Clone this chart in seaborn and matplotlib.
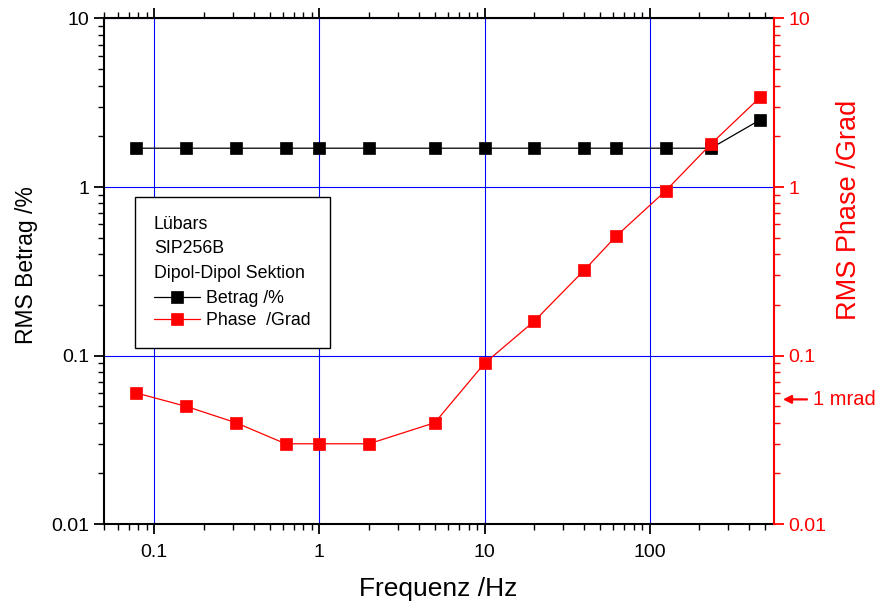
import matplotlib
matplotlib.use("Agg")
import matplotlib.pyplot as plt
import matplotlib.ticker as mticker
import seaborn as sns
import numpy as np

# Data
freq = [0.078125, 0.15625, 0.3125, 0.625, 1.0, 2.0, 5.0, 10.0, 20.0, 40.0, 62.5, 125.0, 235.0, 465.0]
betrag = [1.7, 1.7, 1.7, 1.7, 1.7, 1.7, 1.7, 1.7, 1.7, 1.7, 1.7, 1.7, 1.7, 2.5]
phase = [0.06, 0.05, 0.04, 0.03, 0.03, 0.03, 0.04, 0.09, 0.16, 0.32, 0.51, 0.95, 1.8, 3.4]
legend_title = "Lübars\nSIP256B\nDipol-Dipol Sektion"
mrad_deg = 0.055  # position of the "1 mrad" marker on the phase axis

sns.set_style("ticks")
plt.rcParams['font.family'] = ['Liberation Sans', 'DejaVu Sans']
plt.rcParams['text.color'] = 'black'
plt.rcParams['axes.labelcolor'] = 'black'
plt.rcParams['xtick.color'] = 'black'
plt.rcParams['ytick.color'] = 'black'

fig = plt.figure(figsize=(8.79, 6.06), dpi=100)
ax1 = fig.add_axes([0.118, 0.135, 0.762, 0.8345])
ax2 = ax1.twinx()

for ax in (ax1, ax2):
    ax.set_xscale('log')
    ax.set_yscale('log')
    ax.set_xlim(0.0495, 562)
    ax.set_ylim(0.01, 10)

sns.lineplot(x=freq, y=betrag, ax=ax1, color='black', marker='s', markersize=9,
             markeredgecolor='black', markeredgewidth=0.5, lw=0.9, label='Betrag /%',
             legend=False)
sns.lineplot(x=freq, y=phase, ax=ax2, color='red', marker='s', markersize=9,
             markeredgecolor='red', markeredgewidth=0.5, lw=0.9, label='Phase  /Grad',
             legend=False)

# grid in blue at the decades
ax1.grid(False)
ax2.grid(False)
ax1.grid(True, which='major', axis='both', color='blue', lw=0.8)

fmt = mticker.FuncFormatter(lambda v, p: f"{v:g}")
for ax in (ax1, ax2):
    ax.xaxis.set_major_formatter(fmt)
    ax.yaxis.set_major_formatter(fmt)
    ax.xaxis.set_minor_formatter(mticker.NullFormatter())
    ax.yaxis.set_minor_formatter(mticker.NullFormatter())

ax1.tick_params(which='major', direction='out', length=7, width=1.3, top=True, right=False,
                labelsize=14, colors='black')
ax1.tick_params(axis='x', which='major', pad=7)
ax1.tick_params(which='minor', direction='out', length=4, width=1.0, top=True, right=False)
ax2.tick_params(axis='y', which='major', direction='out', length=7, width=1.3,
                labelsize=14, colors='red')
ax2.tick_params(axis='y', which='minor', direction='out', length=4, width=1.0, colors='red')

for s in ['left', 'top', 'bottom']:
    ax1.spines[s].set_linewidth(1.5)
    ax1.spines[s].set_color('black')
ax1.spines['right'].set_visible(False)
for s in ['left', 'top', 'bottom']:
    ax2.spines[s].set_visible(False)
ax2.spines['right'].set_color('red')
ax2.spines['right'].set_linewidth(1.5)

ax1.set_xlabel('Frequenz /Hz', fontsize=19, labelpad=12)
ax1.set_ylabel('RMS Betrag /%', fontsize=16.5)
ax1.yaxis.set_label_coords(-0.098, 0.512)
ax2.set_ylabel('RMS Phase /Grad', fontsize=19.5, color='red')
ax2.yaxis.set_label_coords(1.094, 0.621)

# 1 mrad marker
ax2.annotate('1 mrad', xy=(1.014, mrad_deg), xycoords=ax2.get_yaxis_transform(),
             xytext=(1.059, mrad_deg), textcoords=ax2.get_yaxis_transform(),
             fontsize=14.5, color='red', ha='left', va='center', annotation_clip=False,
             arrowprops=dict(arrowstyle='-|>', color='red', lw=1.6,
                             mutation_scale=12, shrinkA=2, shrinkB=0))

# legend with the three header lines as title
h1, l1 = ax1.get_legend_handles_labels()
h2, l2 = ax2.get_legend_handles_labels()
leg = ax2.legend(h1 + h2, l1 + l2, title=legend_title, loc='upper left',
                 bbox_to_anchor=(0.047, 0.647), borderaxespad=0, fontsize=12.8,
                 title_fontsize=12.8, alignment='left', frameon=True, fancybox=False,
                 edgecolor='black', framealpha=1, handlelength=2.6, handletextpad=0.35,
                 borderpad=1.05, labelspacing=0.3)
leg.get_frame().set_linewidth(1.0)
leg.get_title().set_linespacing(1.58)
leg.get_title().set_color('black')
for t in leg.get_texts():
    t.set_color('black')
leg._legend_box.sep = 6
ax2.set_zorder(ax1.get_zorder() + 1)

fig.savefig('out.png', dpi=100)
